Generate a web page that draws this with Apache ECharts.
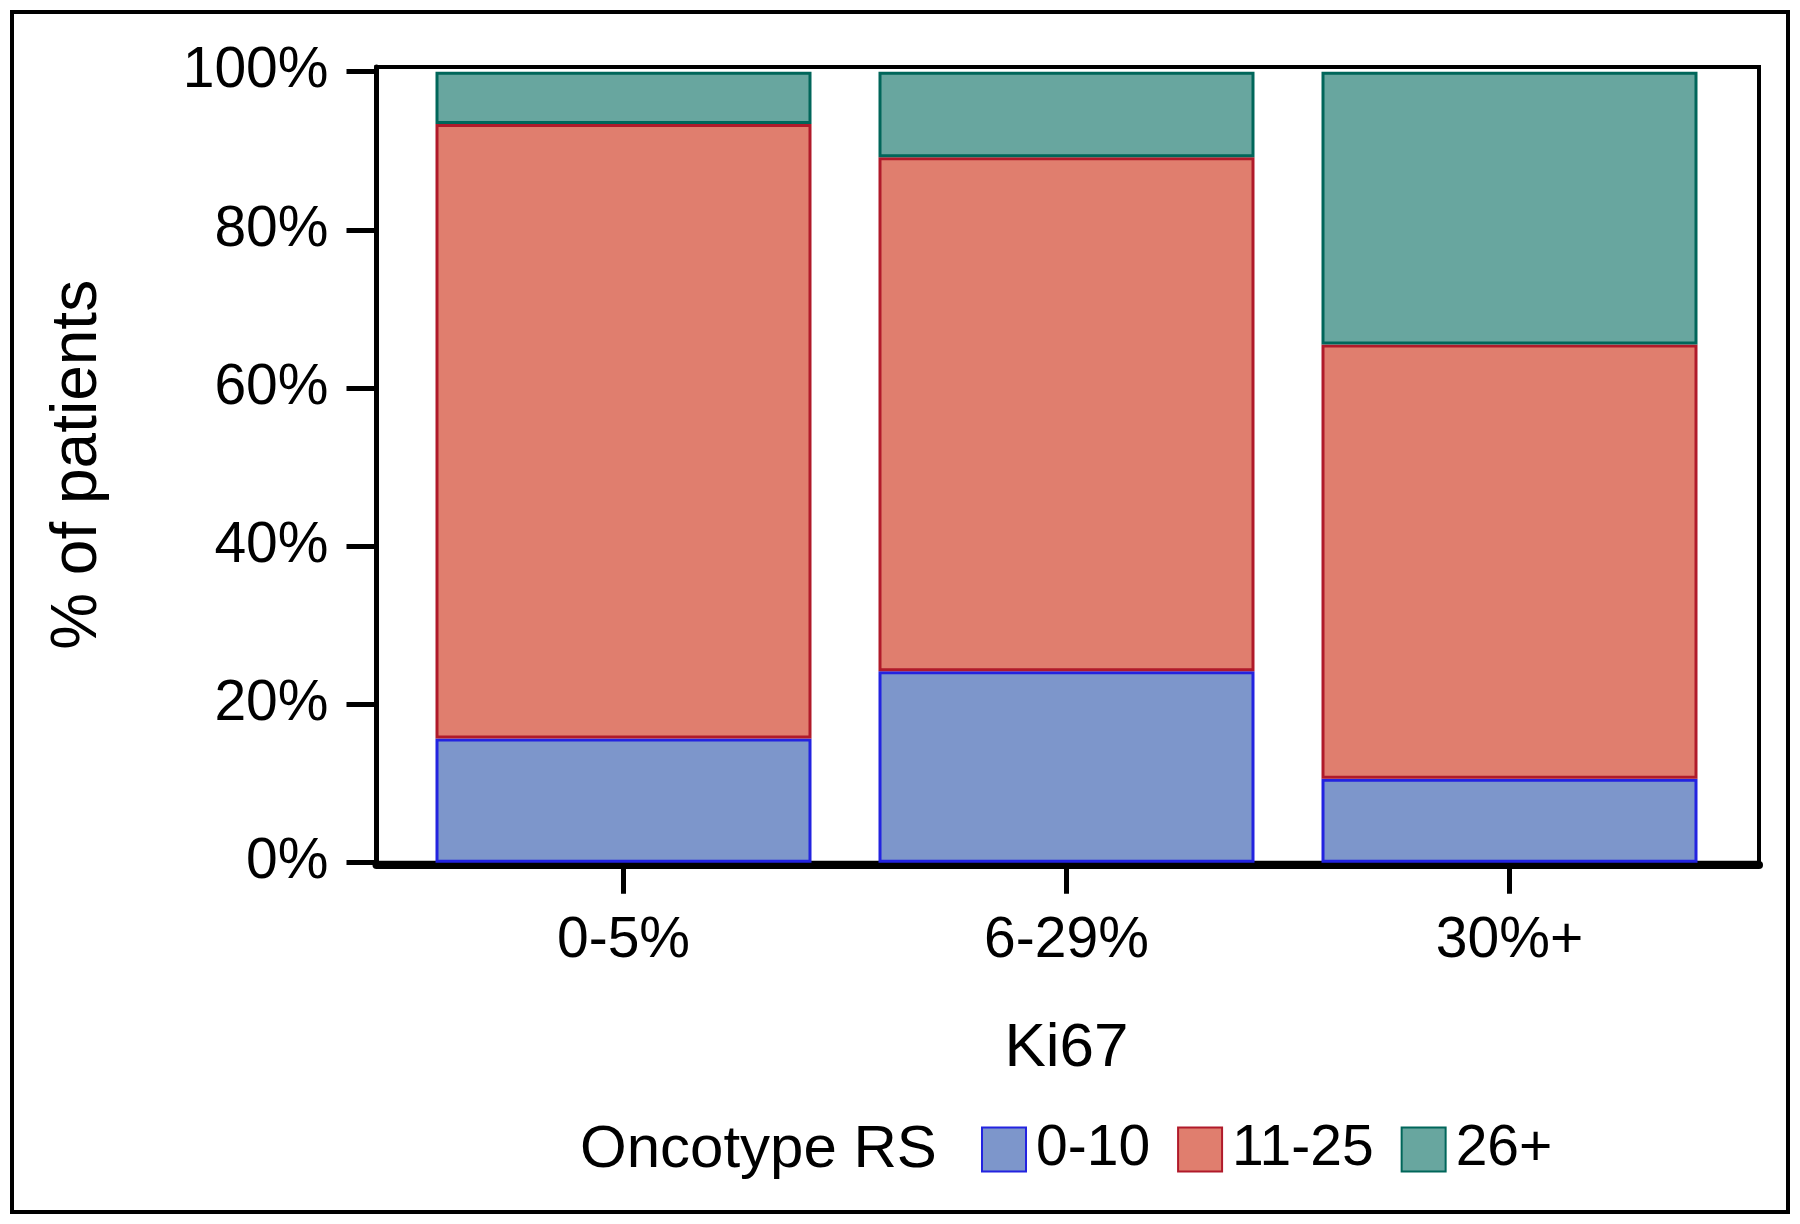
<!DOCTYPE html>
<html>
<head>
<meta charset="utf-8">
<script src="https://cdn.jsdelivr.net/npm/echarts@6/dist/echarts.min.js"></script>
<style>
  html, body { margin: 0; padding: 0; background: #ffffff; }
  #chart { width: 1800px; height: 1224px; }
</style>
</head>
<body>
<div id="chart"></div>
<script>
// ---- Data ----
const categories = ['0-5%', '6-29%', '30%+'];
const seriesNames = ['0-10', '11-25', '26+'];
const rs0to10 = [15.7, 24.2, 10.6];
const rs11to25 = [77.7, 65.0, 54.9];
const rs26plus = [6.6, 10.8, 34.5];
const yTicks = [0, 20, 40, 60, 80, 100];

const FONT = '"Liberation Sans", Arial, Helvetica, sans-serif';

const fills = ['#7D96CB', '#E07E6E', '#68A69F'];
const borders = ['#2323E0', '#B01A2A', '#00665A'];
const values = [rs0to10, rs11to25, rs26plus];

const Y_MAX = 100.6;

const chart = echarts.init(document.getElementById('chart'), null, { renderer: 'canvas' });

const series = seriesNames.map((name, s) => ({
  name: name,
  type: 'bar',
  stack: 'total',
  xAxisIndex: 1,
  yAxisIndex: 1,
  barWidth: 376,
  data: values[s],
  itemStyle: { color: fills[s], borderColor: borders[s], borderWidth: 3 },
  emphasis: { disabled: true }
}));

chart.setOption({
  animation: false,
  backgroundColor: '#ffffff',
  textStyle: { fontFamily: FONT, color: '#000' },
  grid: [
    { // frame / visible y axis
      left: 376.5, right: 41, top: 67, bottom: 361.3,
      show: true, borderColor: '#000', borderWidth: 4, backgroundColor: 'transparent'
    },
    { // plotting band area (categories)
      left: 402, right: 69, top: 67, bottom: 361.3
    }
  ],
  xAxis: [
    {
      gridIndex: 0,
      type: 'value', min: 0, max: 1,
      offset: 2.5,
      axisLine: { show: true, onZero: false, lineStyle: { color: '#000', width: 8 } },
      axisTick: { show: false },
      axisLabel: { show: false },
      splitLine: { show: false }
    },
    {
      gridIndex: 1,
      type: 'category',
      data: categories,
      offset: 2.5,
      name: 'Ki67',
      nameLocation: 'middle',
      nameGap: 153,
      nameTextStyle: { fontFamily: FONT, fontSize: 62, color: '#000' },
      axisLine: { show: false },
      axisTick: { show: true, alignWithLabel: true, length: 31, lineStyle: { color: '#000', width: 5 } },
      axisLabel: { fontFamily: FONT, fontSize: 57, color: '#000', margin: 48, interval: 0 },
      splitLine: { show: false }
    }
  ],
  yAxis: [
    {
      gridIndex: 0,
      type: 'value',
      min: 0, max: Y_MAX,
      name: '% of patients',
      nameLocation: 'middle',
      nameGap: 266,
      nameTextStyle: { fontFamily: FONT, fontSize: 64, color: '#000' },
      axisLine: { show: true, lineStyle: { color: '#000', width: 5 } },
      axisTick: { show: true, customValues: yTicks, length: 30, lineStyle: { color: '#000', width: 5 } },
      axisLabel: {
        customValues: yTicks,
        formatter: '{value}%',
        fontFamily: FONT, fontSize: 57, color: '#000', margin: 48
      },
      splitLine: { show: false }
    },
    {
      gridIndex: 1,
      type: 'value',
      min: 0, max: Y_MAX,
      show: false,
      splitLine: { show: false }
    }
  ],
  legend: {
    data: seriesNames,
    left: 981, top: 1121,
    padding: 0,
    itemWidth: 44, itemHeight: 44, itemGap: 27,
    icon: 'rect',
    selectedMode: false,
    textStyle: { fontFamily: FONT, fontSize: 57, color: '#000', padding: [0, 0, 0, 5] }
  },
  graphic: [
    {
      type: 'rect', silent: true, z: 100,
      shape: { x: 12, y: 12, width: 1776, height: 1200 },
      style: { fill: 'none', stroke: '#000', lineWidth: 4 }
    },
    {
      type: 'text', silent: true,
      x: 580, y: 1150,
      style: { text: 'Oncotype RS', fontFamily: FONT, fontSize: 60, fill: '#000', textVerticalAlign: 'middle', textAlign: 'left' }
    }
  ],
  series: series
});
</script>
</body>
</html>
